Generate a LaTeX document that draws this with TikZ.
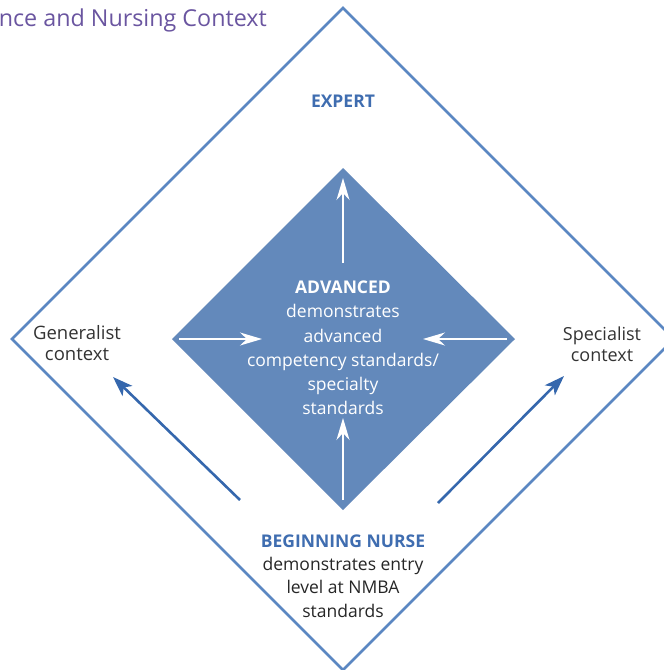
\documentclass[tikz,border=0pt]{standalone}
\usepackage{fontspec}
\setmainfont{Open Sans}
\usetikzlibrary{arrows.meta}
\definecolor{framebl}{HTML}{5B87C2}
\definecolor{innerbl}{HTML}{6389BB}
\definecolor{labelbl}{HTML}{3F6DB0}
\definecolor{arrowbl}{HTML}{3567AD}
\definecolor{titlepu}{HTML}{6A55A0}

\begin{document}
\begin{tikzpicture}[x=1pt,y=-1pt,
  body/.style={font=\fontsize{17.5}{24.2}\selectfont, align=center, inner sep=0pt},
  whitearr/.style={white, line width=1.2pt, -{Stealth[length=22pt,width=13pt,inset=7pt]}},
  bluearr/.style={arrowbl, line width=2.6pt, -{Stealth[length=20pt,width=14pt,inset=5pt]}}]
 \useasboundingbox (0,0) rectangle (664,670);
 \clip (0,0) rectangle (664,670);
 \coordinate (top) at (343,8);
 \coordinate (right) at (674,339);
 \coordinate (bot) at (343,670);
 \coordinate (left) at (12,339);
 \coordinate (itop) at (343,168);
 \coordinate (iright) at (515,339);
 \coordinate (ibot) at (343,510);
 \coordinate (ileft) at (172,339);
 \fill[innerbl] (itop) -- (iright) -- (ibot) -- (ileft) -- cycle;
 \draw[framebl, line width=2.5pt, line join=miter] (top) -- (right) -- (bot) -- (left) -- cycle;
 \node[font=\fontsize{23.3}{26}\selectfont, text=titlepu, anchor=base east, inner sep=0pt] (title) at (267,26.5) {nce and Nursing Context};
 \node[body, text=labelbl, font=\fontsize{17.5}{24}\selectfont\bfseries] (expert) at (343,101) {EXPERT};
 \node[body, text=white] (advanced) at (343,348) {\textbf{ADVANCED}\\demonstrates\\advanced\\competency standards/\\specialty\\standards};
 \node[body, text=black!80, font=\fontsize{18.5}{21}\selectfont] (general) at (77,343) {Generalist\\context};
 \node[body, text=black!80, font=\fontsize{18}{21}\selectfont] (special) at (602,344) {Specialist\\context};
 \node[body, text=black!85, font=\fontsize{17.5}{23.3}\selectfont] (beginner) at (343,576) {\textcolor{labelbl}{\textbf{BEGINNING NURSE}}\\demonstrates entry\\level at NMBA\\standards};
 \coordinate (ua) at (343,263);
 \coordinate (ub) at (343,178);
 \coordinate (da) at (343,500);
 \coordinate (db) at (343,418);
 \coordinate (la) at (179,339);
 \coordinate (lb) at (262,339);
 \coordinate (ra) at (507,339);
 \coordinate (rb) at (423,339);
 \draw[whitearr] (ua) -- (ub);
 \draw[whitearr] (da) -- (db);
 \draw[whitearr] (la) -- (lb);
 \draw[whitearr] (ra) -- (rb);
 \coordinate (gla) at (240,500);
 \coordinate (glb) at (113,377);
 \coordinate (spa) at (438,503);
 \coordinate (spb) at (564,376);
 \draw[bluearr] (gla) -- (glb);
 \draw[bluearr] (spa) -- (spb);
\end{tikzpicture}
\end{document}
